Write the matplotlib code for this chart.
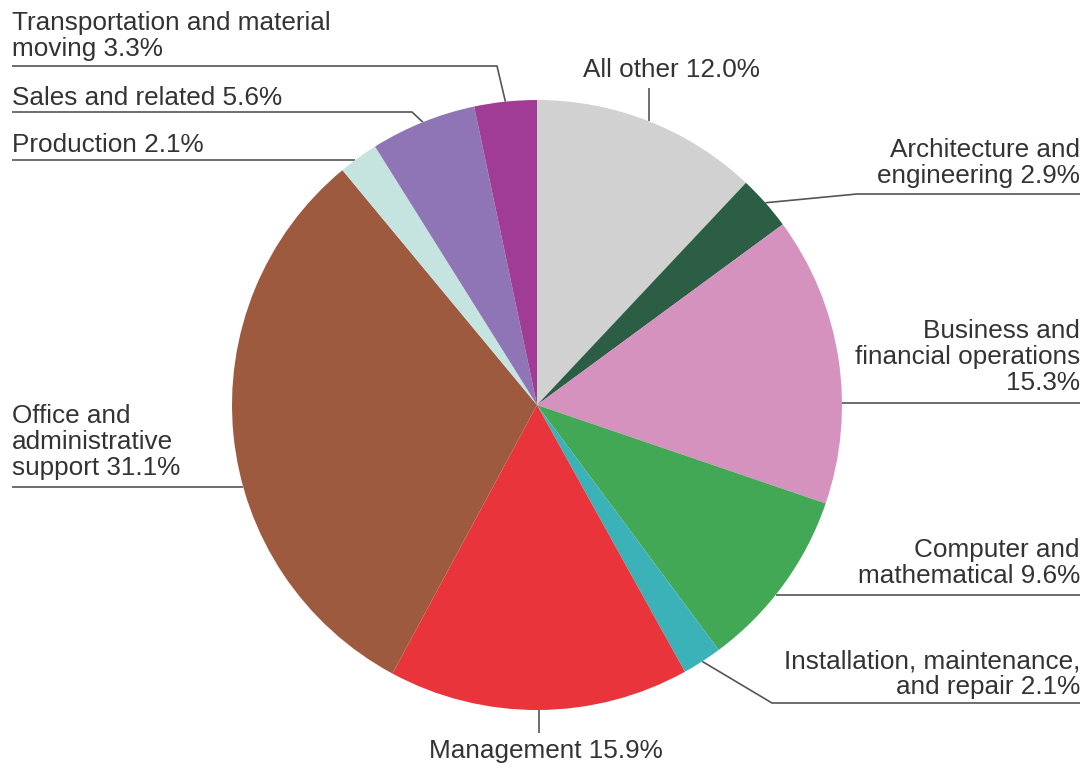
import numpy as np
import matplotlib.pyplot as plt

plt.rcParams['font.family'] = ['Liberation Sans', 'DejaVu Sans']

# ── Data (clockwise from 12 o'clock) ─────────────────────────────────────────
label_fmt = [
    'All other {}%',
    'Architecture and\nengineering {}%',
    'Business and\nfinancial operations\n{}%',
    'Computer and\nmathematical {}%',
    'Installation, maintenance,\nand repair {}%',
    'Management {}%',
    'Office and\nadministrative\nsupport {}%',
    'Production {}%',
    'Sales and related {}%',
    'Transportation and material\nmoving {}%',
]
shares = [12.0, 2.9, 15.3, 9.6, 2.1, 15.9, 31.1, 2.1, 5.6, 3.3]
colors = ['#d1d1d1', '#2b5e45', '#d592bf', '#43a855', '#3bb2b8',
          '#e8343a', '#9e5a3f', '#c5e4e0', '#8f75b6', '#a13c95']

# ── Layout (pixel coords, y measured from the top) ───────────────────────────
W, H = 1087, 768
CX, CY, R = 537, 405, 305
TXT = '#333333'
LINE = '#555555'

# text anchor: x, baseline of last line, ha
text_pos = [
    (583, 77, 'left'),
    (1080, 183, 'right'),
    (1080, 390, 'right'),
    (1080, 583, 'right'),
    (1080, 694, 'right'),
    (546, 758, 'center'),
    (12, 475, 'left'),
    (12, 152, 'left'),
    (12, 105, 'left'),
    (12, 56, 'left'),
]
# leaders: ('mid', [elbow points...]) from wedge mid-angle,
#          ('flat', y, far_x) horizontal line to the pie edge
leaders = [
    ('mid', [('ax', 88)]),
    ('mid', [(857, 194), (1080, 194)]),
    ('flat', 403, 1080),
    ('flat', 595, 1080),
    ('mid', [(772, 703), (1080, 703)]),
    ('mid', [('ax', 733)]),
    ('flat', 487, 12),
    ('flat', 160, 12),
    ('mid', [(412, 112), (12, 112)]),
    ('mid', [(497, 66), (12, 66)]),
]


def py(y):
    return H - y


fig = plt.figure(figsize=(W / 100, H / 100), dpi=100, facecolor='white')
ax = fig.add_axes([0, 0, 1, 1])

ax.pie(shares, colors=colors, startangle=90, counterclock=False,
       center=(CX, py(CY)), radius=R,
       wedgeprops=dict(linewidth=0, antialiased=True), frame=False)
ax.set_xlim(0, W)
ax.set_ylim(0, H)
ax.set_aspect('auto')
ax.axis('off')

# wedge mid-angles, clockwise from top
cum = np.cumsum([0] + shares)
mid_deg = (cum[:-1] + cum[1:]) / 2 / sum(shares) * 360

for i, v in enumerate(shares):
    tx, ty, ha = text_pos[i]
    ax.text(tx, py(ty), label_fmt[i].format(f'{v:.1f}'), ha=ha, va='baseline',
            fontsize=18.8, color=TXT, linespacing=1.1)

    ld = leaders[i]
    if ld[0] == 'mid':
        a = np.deg2rad(mid_deg[i])
        axp, ayp = CX + R * np.sin(a), CY - R * np.cos(a)
        pts = [(axp, ayp)]
        for ex, ey in ld[1]:
            pts.append((axp if ex == 'ax' else ex, ey))
    else:
        _, ly, far = ld
        dx = np.sqrt(R ** 2 - (ly - CY) ** 2)
        ex = CX + dx if far > CX else CX - dx
        pts = [(ex, ly), (far, ly)]
    xs = [p[0] for p in pts]
    ys = [py(p[1]) for p in pts]
    ax.plot(xs, ys, color=LINE, lw=1.2, solid_capstyle='butt', zorder=0.5)

plt.savefig('out.png', dpi=100, facecolor='white')
